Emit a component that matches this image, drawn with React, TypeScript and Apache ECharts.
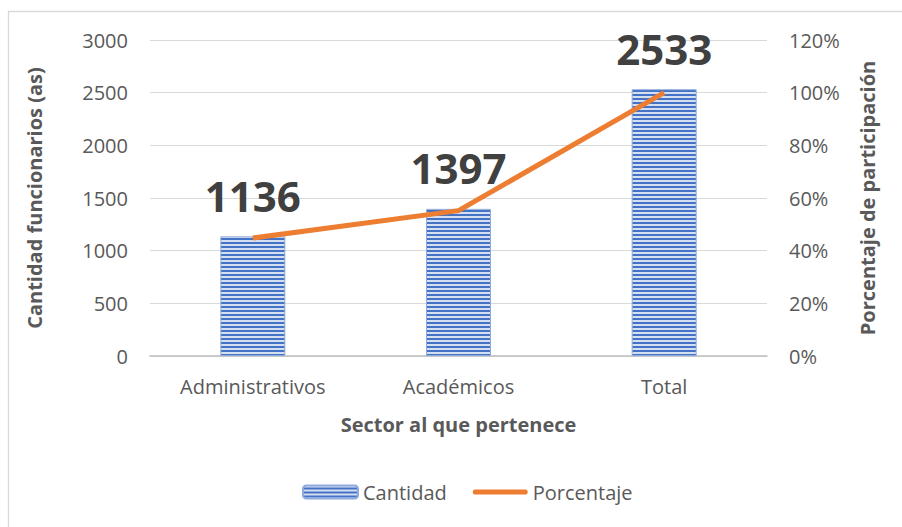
import React, { useEffect, useRef } from "react";
import * as echarts from "echarts";

const categories = ["Administrativos", "Académicos", "Total"];
const cantidad = [1136, 1397, 2533];
const porcentaje = [0.448, 0.552, 1.0];

function makeStripe(): HTMLCanvasElement {
  const c = document.createElement("canvas");
  c.width = 4;
  c.height = 4;
  const ctx = c.getContext("2d")!;
  ctx.fillStyle = "#D5DFF2";
  ctx.fillRect(0, 0, 4, 4);
  ctx.fillStyle = "#4472C4";
  ctx.fillRect(0, 2, 4, 2);
  return c;
}

export default function App() {
  const ref = useRef<HTMLDivElement>(null);
  useEffect(() => {
    if (!ref.current) return;
    const chart = echarts.init(ref.current, null, { renderer: "svg" });
    const stripe = { image: makeStripe(), repeat: "repeat" } as any;
    const font = "'Open Sans', sans-serif";
    const titleStyle = { fontSize: 20, fontWeight: "bold", color: "#595959", fontFamily: font };
    chart.setOption({
      animation: false,
      backgroundColor: "#ffffff",
      textStyle: { fontFamily: font },
      graphic: [
        {
          type: "rect",
          shape: { x: 8.5, y: 11.5, width: 1200, height: 1200 },
          style: { fill: "none", stroke: "#D9D9D9", lineWidth: 1.3 },
          silent: true,
          z: -10,
        },
      ],
      grid: { left: 150, right: 135, top: 40, bottom: 171 },
      legend: {
        bottom: 20,
        left: 297,
        itemWidth: 55,
        itemHeight: 13,
        itemGap: 26,
        textStyle: { fontSize: 20, color: "#595959", fontFamily: font },
        data: [
          { name: "Cantidad" },
          {
            name: "Porcentaje",
            icon: "path://M0,0 L0.01,0 M0,13 L0.01,13 M2,4 L53,4 Q55,4 55,6.5 Q55,9 53,9 L2,9 Q0,9 0,6.5 Q0,4 2,4 Z",
          },
        ],
      },
      xAxis: {
        type: "category",
        data: categories,
        name: "Sector al que pertenece",
        nameLocation: "middle",
        nameGap: 58,
        nameTextStyle: titleStyle,
        axisLine: { lineStyle: { color: "#BFBFBF", width: 1.5 } },
        axisTick: { show: false },
        axisLabel: { fontSize: 20, color: "#595959", margin: 20, fontFamily: font },
      },
      yAxis: [
        {
          type: "value",
          min: 0,
          max: 3000,
          interval: 500,
          name: "Cantidad funcionarios (as)",
          nameLocation: "middle",
          nameGap: 106,
          nameTextStyle: titleStyle,
          axisLine: { show: false },
          axisTick: { show: false },
          axisLabel: {
            fontSize: 20,
            color: "#595959",
            margin: 22,
            fontFamily: font,
            formatter: (v: number) => String(v),
          },
          splitLine: { lineStyle: { color: "#D9D9D9", width: 1 } },
        },
        {
          type: "value",
          min: 0,
          max: 1.2,
          interval: 0.2,
          name: "Porcentaje de participación",
          nameLocation: "middle",
          nameGap: 90,
          nameTextStyle: titleStyle,
          axisLine: { show: false },
          axisTick: { show: false },
          splitLine: { show: false },
          axisLabel: {
            fontSize: 20,
            color: "#595959",
            margin: 22,
            fontFamily: font,
            formatter: (v: number) => Math.round(v * 100) + "%",
          },
        },
      ],
      series: [
        {
          name: "Cantidad",
          type: "bar",
          data: cantidad,
          barWidth: 65,
          itemStyle: { color: stripe, borderColor: "#8FAADC", borderWidth: 1 },
          label: {
            show: true,
            position: "top",
            distance: 20,
            fontSize: 42,
            fontWeight: "bold",
            color: "#404040",
            fontFamily: font,
          },
          z: 2,
        },
        {
          name: "Porcentaje",
          type: "line",
          yAxisIndex: 1,
          data: porcentaje,
          symbol: "none",
          lineStyle: { color: "#ED7D31", width: 5 },
          itemStyle: { color: "#ED7D31" },
          z: 3,
        },
      ],
    });
    return () => chart.dispose();
  }, []);
  return (
    <div
      ref={ref}
      style={{ position: "absolute", left: 0, top: 0, width: 902, height: 527 }}
    />
  );
}
